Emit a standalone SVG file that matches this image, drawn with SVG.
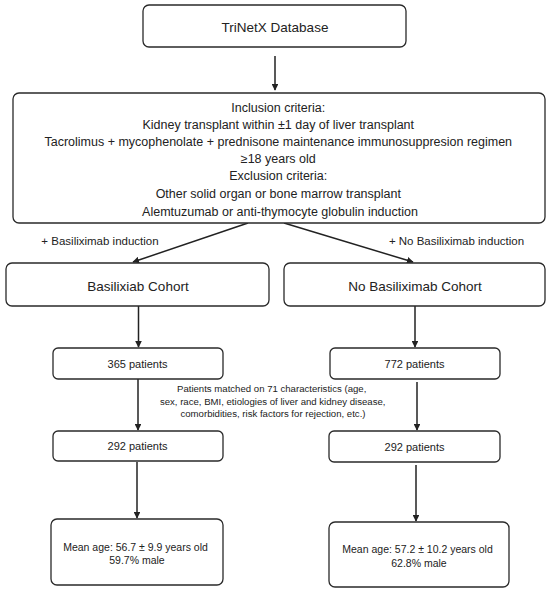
<svg xmlns="http://www.w3.org/2000/svg" width="550" height="594" viewBox="0 0 550 594">
<style>
.box{fill:#fff;stroke:#2a2a2a;stroke-width:1.3}
.t{font-family:"Liberation Sans",Arial,sans-serif;fill:#222;text-anchor:middle}
.c{stroke:#222;stroke-width:1.5;fill:none;marker-end:url(#ah)}
</style>
<defs>
<marker id="ah" viewBox="0 0 10 10" refX="9" refY="5" markerWidth="4.5" markerHeight="4.5" orient="auto" markerUnits="strokeWidth">
<path d="M0,0 L10,5 L0,10 z" fill="#222"/>
</marker>
</defs>
<rect width="550" height="594" fill="#fff"/>
<g id="connectors">
<line class="c" x1="275" y1="56" x2="275" y2="90"/>
<line class="c" x1="248" y1="223" x2="133" y2="262"/>
<line class="c" x1="284" y1="223" x2="413" y2="262"/>
<line class="c" x1="138.5" y1="306" x2="138.5" y2="347"/>
<line class="c" x1="415" y1="306" x2="415" y2="347"/>
<line class="c" x1="138" y1="379" x2="138" y2="430"/>
<line class="c" x1="417" y1="382" x2="417" y2="430"/>
<line class="c" x1="137" y1="462" x2="137" y2="518"/>
<line class="c" x1="416" y1="465" x2="416" y2="521"/>
</g>
<g id="trinetx">
<rect class="box" x="143" y="5" width="263" height="42" rx="6"/>
<text class="t" x="275" y="31.5" font-size="13.5">TriNetX Database</text>
</g>
<g id="criteria">
<rect class="box" x="13" y="93" width="532" height="130" rx="6"/>
<text class="t" font-size="12.5">
<tspan x="280" y="112">Inclusion criteria:</tspan>
<tspan x="280" y="129">Kidney transplant within ±1 day of liver transplant</tspan>
<tspan x="280" y="146">Tacrolimus + mycophenolate + prednisone maintenance immunosuppresion regimen</tspan>
<tspan x="280" y="163">≥18 years old</tspan>
<tspan x="280" y="180">Exclusion criteria:</tspan>
<tspan x="280" y="198">Other solid organ or bone marrow transplant</tspan>
<tspan x="280" y="216">Alemtuzumab or anti-thymocyte globulin induction</tspan>
</text>
</g>
<g id="label-basiliximab">
<text class="t" x="100" y="245" font-size="11.5">+ Basiliximab induction</text>
</g>
<g id="label-no-basiliximab">
<text class="t" x="456.5" y="245" font-size="11.5">+ No Basiliximab induction</text>
</g>
<g id="basiliximab-cohort">
<rect class="box" x="6" y="263" width="263" height="43" rx="6"/>
<text class="t" x="138" y="290.5" font-size="13.5">Basilixiab Cohort</text>
</g>
<g id="no-basiliximab-cohort">
<rect class="box" x="284" y="263" width="261" height="43" rx="6"/>
<text class="t" x="415" y="290.5" font-size="13.5">No Basiliximab Cohort</text>
</g>
<g id="n365">
<rect class="box" x="53" y="348" width="170" height="31" rx="5"/>
<text class="t" x="137.5" y="367.5" font-size="11">365 patients</text>
</g>
<g id="n772">
<rect class="box" x="330" y="348" width="170" height="31" rx="5"/>
<text class="t" x="414.5" y="367.5" font-size="11">772 patients</text>
</g>
<g id="matching-note">
<text class="t" font-size="9.6">
<tspan x="273" y="392">Patients matched on 71 characteristics (age,</tspan>
<tspan x="274" y="404.5">sex, race, BMI, etiologies of liver and kidney disease,</tspan>
<tspan x="273" y="417">comorbidities, risk factors for rejection, etc.)</tspan>
</text>
</g>
<g id="n292-left">
<rect class="box" x="53" y="431" width="170" height="30" rx="5"/>
<text class="t" x="137.5" y="450" font-size="11">292 patients</text>
</g>
<g id="n292-right">
<rect class="box" x="329" y="431" width="171" height="31" rx="5"/>
<text class="t" x="414.5" y="450.5" font-size="11">292 patients</text>
</g>
<g id="stats-left">
<rect class="box" x="51" y="519" width="172" height="66" rx="6"/>
<text class="t" font-size="10.5">
<tspan x="137" y="550.5">Mean age: 56.7 ± 9.9 years old</tspan>
<tspan x="137" y="563.5">59.7% male</tspan>
</text>
</g>
<g id="stats-right">
<rect class="box" x="329" y="522" width="180" height="65" rx="6"/>
<text class="t" font-size="10.5">
<tspan x="419" y="553">Mean age: 57.2 ± 10.2 years old</tspan>
<tspan x="419" y="567">62.8% male</tspan>
</text>
</g>
</svg>
